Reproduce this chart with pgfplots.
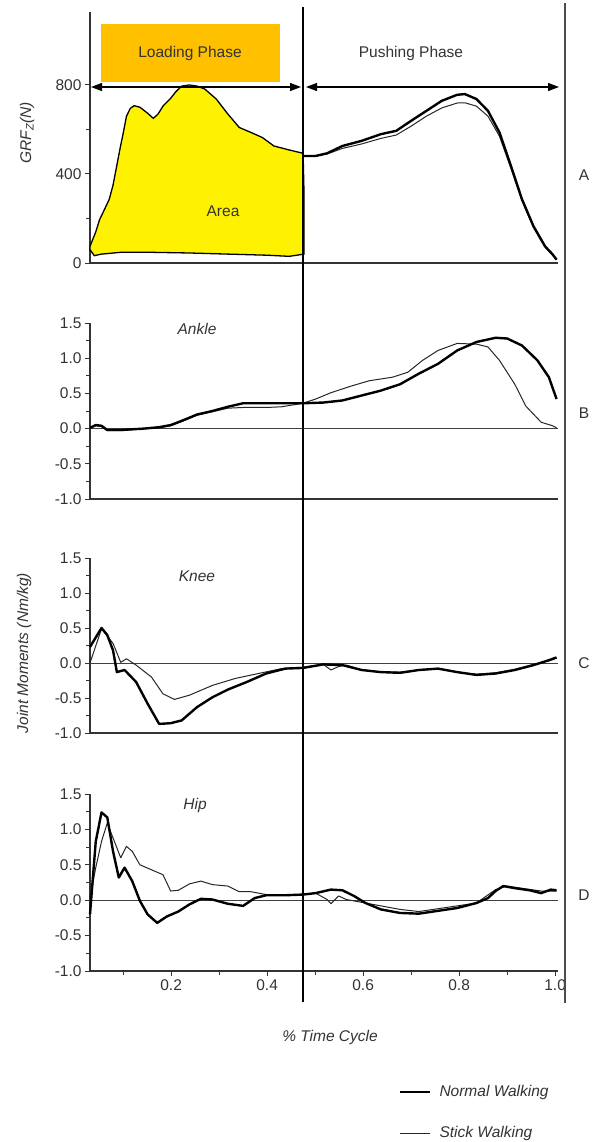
\documentclass[border=0pt]{standalone}
\usepackage{fontspec}
\setmainfont{Liberation Sans}
\usepackage{pgfplots}
\pgfplotsset{compat=1.18}
\usetikzlibrary{arrows.meta}

\newcommand{\lbl}{\fontsize{15.5bp}{18bp}\selectfont}
\definecolor{txt}{HTML}{333333}
\definecolor{boxorange}{HTML}{FFC000}

\pgfplotsset{
  panel/.style={
    scale only axis, width=468bp, xmin=0.031, xmax=1.006,
    axis x line=bottom, axis y line=left,
    axis line style={-, line width=1.4bp, black!80},
    tick align=outside, major tick length=5bp, minor tick length=4bp,
    tick style={line width=1bp, black!80},
    xtick=\empty, anchor=south west, clip=false,
    ticklabel style={font=\lbl, text=txt},
  },
  moment/.style={panel, ymin=-1, ymax=1.5,
    ytick={-1,-0.5,0,0.5,1,1.5}, yticklabels={-1.0,-0.5,0.0,0.5,1.0,1.5},
    minor ytick={-0.75,-0.25,0.25,0.75,1.25}},
  normal/.style={black, line width=2.4bp, line join=round},
  stick/.style={black!85, line width=1bp, line join=round},
}

\begin{document}
\begin{tikzpicture}
\path[use as bounding box] (0,0) rectangle (596bp,-1142bp);

% A: vertical ground reaction force
\begin{axis}[panel, at={(90bp,-263bp)}, height=251bp, ymin=0, ymax=1128,
    ytick={0,400,800}, yticklabels={0,400,800}, minor ytick={200,600}]
  \addplot[fill=yellow, draw=black, line width=1.3bp] coordinates {
    (0.031,75) (0.043,140) (0.051,195) (0.061,240) (0.071,286) (0.079,350)
    (0.087,440) (0.095,530) (0.099,570) (0.107,660) (0.115,695) (0.123,707)
    (0.135,700) (0.150,675) (0.163,650) (0.173,670) (0.183,705) (0.199,740)
    (0.210,770) (0.222,795) (0.238,800) (0.254,795) (0.270,782) (0.294,737)
    (0.318,670) (0.342,609) (0.366,587) (0.390,564) (0.414,526) (0.446,508)
    (0.475,493) (0.477,300) (0.477,40) (0.446,30) (0.400,35) (0.318,40)
    (0.238,45) (0.159,48) (0.095,48) (0.055,40) (0.040,33) (0.031,60)
  } -- cycle;
  \addplot[stick] coordinates {
    (0.475,481) (0.501,481) (0.525,490) (0.557,515) (0.597,535) (0.637,560)
    (0.669,575) (0.700,615) (0.732,660) (0.764,697) (0.796,719) (0.812,720)
    (0.836,705) (0.860,660) (0.884,570) (0.908,425) (0.931,280) (0.955,160)
    (0.979,72) (0.995,35) (1.003,15)
  };
  \addplot[normal] coordinates {
    (0.475,481) (0.501,481) (0.525,493) (0.557,526) (0.597,549) (0.637,579)
    (0.669,594) (0.700,639) (0.732,684) (0.764,729) (0.796,756) (0.812,759)
    (0.836,737) (0.860,684) (0.884,587) (0.908,436) (0.931,286) (0.955,165)
    (0.979,75) (0.995,38) (1.003,15)
  };
\end{axis}

% B: ankle
\begin{axis}[moment, at={(90bp,-499bp)}, height=176bp]
  \draw[black!75, line width=1bp] (axis cs:0.031,0) -- (axis cs:1.006,0);
  \addplot[stick] coordinates {
    (0.031,0.01) (0.043,0.04) (0.055,0.03) (0.067,-0.03) (0.095,-0.03)
    (0.143,0.0) (0.175,0.01) (0.199,0.04) (0.222,0.10) (0.254,0.19)
    (0.286,0.24) (0.318,0.29) (0.350,0.30) (0.398,0.30) (0.430,0.31)
    (0.475,0.36) (0.501,0.42) (0.533,0.51) (0.573,0.60) (0.613,0.68)
    (0.661,0.73) (0.693,0.80) (0.724,0.97) (0.756,1.11) (0.796,1.21)
    (0.836,1.20) (0.860,1.16) (0.884,0.97) (0.916,0.63) (0.939,0.32)
    (0.971,0.09) (0.995,0.04) (1.003,0.01)
  };
  \addplot[normal] coordinates {
    (0.031,0.01) (0.043,0.05) (0.055,0.04) (0.067,-0.02) (0.095,-0.02)
    (0.143,0.0) (0.175,0.02) (0.199,0.05) (0.222,0.11) (0.254,0.20)
    (0.286,0.25) (0.318,0.31) (0.350,0.36) (0.398,0.36) (0.475,0.36)
    (0.517,0.37) (0.557,0.40) (0.597,0.47) (0.637,0.54) (0.677,0.63)
    (0.716,0.78) (0.756,0.92) (0.796,1.11) (0.836,1.23) (0.876,1.29)
    (0.900,1.28) (0.931,1.18) (0.963,0.97) (0.987,0.73) (1.003,0.42)
  };
\end{axis}

% C: knee
\begin{axis}[moment, at={(90bp,-733bp)}, height=175bp]
  \draw[black!75, line width=1bp] (axis cs:0.031,0) -- (axis cs:1.006,0);
  \addplot[stick] coordinates {
    (0.031,0.0) (0.055,0.49) (0.079,0.28) (0.095,0.01) (0.107,0.06)
    (0.127,-0.03) (0.159,-0.20) (0.183,-0.44) (0.207,-0.52) (0.238,-0.46)
    (0.286,-0.32) (0.334,-0.22) (0.382,-0.15) (0.430,-0.08) (0.475,-0.06)
    (0.517,-0.02) (0.533,-0.10) (0.549,-0.05) (0.565,-0.03) (0.597,-0.10)
    (0.637,-0.13) (0.677,-0.13) (0.716,-0.10) (0.756,-0.08) (0.796,-0.13)
    (0.836,-0.16) (0.876,-0.14) (0.916,-0.09) (0.955,-0.02) (0.987,0.03)
    (1.003,0.07)
  };
  \addplot[normal] coordinates {
    (0.031,0.23) (0.055,0.50) (0.067,0.40) (0.079,0.18) (0.087,-0.13)
    (0.103,-0.10) (0.127,-0.27) (0.151,-0.58) (0.175,-0.87) (0.199,-0.86)
    (0.222,-0.82) (0.254,-0.63) (0.286,-0.49) (0.318,-0.38) (0.358,-0.27)
    (0.398,-0.15) (0.438,-0.08) (0.475,-0.07) (0.517,-0.02) (0.557,-0.03)
    (0.597,-0.10) (0.637,-0.13) (0.677,-0.14) (0.716,-0.10) (0.756,-0.08)
    (0.796,-0.13) (0.836,-0.17) (0.876,-0.15) (0.916,-0.10) (0.955,-0.03)
    (0.987,0.04) (1.003,0.08)
  };
\end{axis}

% D: hip
\begin{axis}[moment, at={(90bp,-971bp)}, height=177bp,
    xtick={0.2,0.4,0.6,0.8,1.0}, xticklabels={0.2,0.4,0.6,0.8,1.0},
    minor xtick={0.1,0.3,0.5,0.7,0.9}]
  \draw[black!75, line width=1bp] (axis cs:0.031,0) -- (axis cs:1.006,0);
  \addplot[stick] coordinates {
    (0.031,0.03) (0.043,0.46) (0.055,0.83) (0.067,1.09) (0.079,0.88)
    (0.095,0.60) (0.107,0.76) (0.119,0.69) (0.135,0.50) (0.159,0.43)
    (0.183,0.36) (0.199,0.13) (0.215,0.14) (0.238,0.23) (0.262,0.27)
    (0.286,0.22) (0.318,0.20) (0.342,0.12) (0.366,0.12) (0.398,0.08)
    (0.475,0.08) (0.501,0.10) (0.525,0.01) (0.533,-0.05) (0.549,0.06)
    (0.565,0.01) (0.605,-0.04) (0.677,-0.13) (0.716,-0.16) (0.756,-0.12)
    (0.836,-0.04) (0.876,0.15) (0.900,0.20) (0.939,0.16) (0.971,0.13)
    (1.003,0.13)
  };
  \addplot[normal] coordinates {
    (0.031,-0.2) (0.043,0.83) (0.055,1.24) (0.067,1.17) (0.079,0.69)
    (0.091,0.32) (0.103,0.46) (0.119,0.27) (0.135,-0.01) (0.151,-0.2)
    (0.171,-0.32) (0.191,-0.23) (0.215,-0.16) (0.238,-0.06) (0.262,0.02)
    (0.286,0.01) (0.318,-0.05) (0.350,-0.08) (0.374,0.03) (0.398,0.07)
    (0.438,0.07) (0.475,0.08) (0.501,0.10) (0.533,0.15) (0.557,0.14)
    (0.581,0.06) (0.605,-0.04) (0.637,-0.13) (0.677,-0.18) (0.716,-0.19)
    (0.756,-0.15) (0.796,-0.11) (0.836,-0.04) (0.860,0.03) (0.876,0.13)
    (0.892,0.20) (0.916,0.17) (0.947,0.14) (0.971,0.10) (0.991,0.15)
    (1.003,0.14)
  };
\end{axis}

% phase dividers
\draw[black, line width=1.2bp] (303bp,-7bp) -- (303bp,-1002bp);
\draw[black!70, line width=1.5bp] (565bp,-3bp) -- (565bp,-1003bp);

% phase annotation
\fill[boxorange] (101bp,-24bp) rectangle (280bp,-82bp);
\node[font=\lbl, text=txt] at (190bp,-53bp) {Loading Phase};
\node[font=\lbl, text=txt] at (411bp,-53bp) {Pushing Phase};
\draw[line width=1.2bp, {Triangle[length=11bp,width=8bp]}-{Triangle[length=11bp,width=8bp]}] (91bp,-87bp) -- (301bp,-87bp);
\draw[line width=1.2bp, {Triangle[length=11bp,width=8bp]}-{Triangle[length=11bp,width=8bp]}] (306bp,-87bp) -- (559bp,-87bp);
\node[font=\lbl, text=txt] at (223bp,-211bp) {Area};

% panel titles
\node[font=\lbl\itshape, text=txt] at (197bp,-329bp) {Ankle};
\node[font=\lbl\itshape, text=txt] at (197bp,-576bp) {Knee};
\node[font=\lbl\itshape, text=txt] at (195bp,-805bp) {Hip};

% panel letters
\node[font=\lbl, text=txt] at (584bp,-175bp) {A};
\node[font=\lbl, text=txt] at (584bp,-413bp) {B};
\node[font=\lbl, text=txt] at (584bp,-663bp) {C};
\node[font=\lbl, text=txt] at (584bp,-895bp) {D};

% axis titles
\node[font=\lbl\itshape, text=txt, rotate=90] at (27bp,-133bp) {GRF\textsubscript{Z}(N)};
\node[font=\lbl\itshape, text=txt, rotate=90] at (24bp,-653bp) {Joint Moments (Nm/kg)};
\node[font=\lbl\itshape, text=txt] at (330bp,-1037bp) {\% Time Cycle};

% legend
\draw[black, line width=2.4bp] (400bp,-1092bp) -- (430bp,-1092bp);
\node[font=\lbl\itshape, text=txt, anchor=west] at (436bp,-1092bp) {Normal Walking};
\draw[black!85, line width=1bp] (400bp,-1133bp) -- (430bp,-1133bp);
\node[font=\lbl\itshape, text=txt, anchor=west] at (436bp,-1133bp) {Stick Walking};
\end{tikzpicture}
\end{document}
